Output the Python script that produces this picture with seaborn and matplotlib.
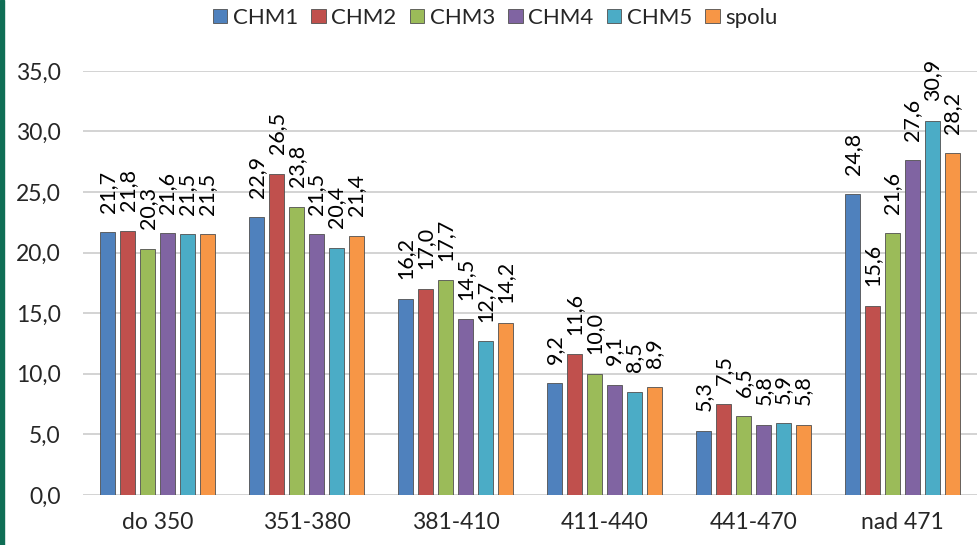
import pandas as pd
import seaborn as sns
import matplotlib.pyplot as plt
from matplotlib.patches import Rectangle

# Údaje z grafu
kategorie = ['do 350', '351-380', '381-410', '411-440', '441-470', 'nad 471']
serie = ['CHM1', 'CHM2', 'CHM3', 'CHM4', 'CHM5', 'spolu']
chm1 = [21.7, 22.9, 16.2, 9.2, 5.3, 24.8]
chm2 = [21.8, 26.5, 17.0, 11.6, 7.5, 15.6]
chm3 = [20.3, 23.8, 17.7, 10.0, 6.5, 21.6]
chm4 = [21.6, 21.5, 14.5, 9.1, 5.8, 27.6]
chm5 = [21.5, 20.4, 12.7, 8.5, 5.9, 30.9]
spolu = [21.5, 21.4, 14.2, 8.9, 5.8, 28.2]
farby = ['#4F81BD', '#C0504D', '#9BBB59', '#8064A2', '#4BACC6', '#F79646']

hodnoty = [chm1, chm2, chm3, chm4, chm5, spolu]
rows = []
for s, vals in zip(serie, hodnoty):
    for k, v in zip(kategorie, vals):
        rows.append({'kategoria': k, 'seria': s, 'hodnota': v})
df = pd.DataFrame(rows)

sns.set_theme(style="white")
plt.rcParams['font.family'] = ['Lato', 'DejaVu Sans']

fig = plt.figure(figsize=(9.77, 5.45), dpi=100)
ax = fig.add_axes([0.085, 0.092, 0.915, 0.778])

sns.barplot(data=df, x='kategoria', y='hodnota', hue='seria', palette=farby,
            saturation=1, width=0.8, gap=0.25, ax=ax,
            edgecolor='#505050', linewidth=0.6)

# hodnoty nad stĺpcami
for cont, vals in zip(ax.containers, hodnoty):
    ax.bar_label(cont, labels=[f'{v:.1f}'.replace('.', ',') for v in vals],
                 rotation=90, padding=14, fontsize=15.5, color='black',
                 annotation_clip=False)

ax.set_ylim(0, 35)
ax.set_yticks(range(0, 36, 5))
ax.set_yticklabels([f'{v},0' for v in range(0, 36, 5)], fontsize=16.5)
ax.tick_params(axis='x', labelsize=16.5, length=0, pad=12)
ax.tick_params(axis='y', length=0, pad=16)
ax.yaxis.grid(True, color='#d0d0d0', linewidth=1.3)
ax.set_axisbelow(True)
ax.set_xlabel('')
ax.set_ylabel('')
for sp in ax.spines.values():
    sp.set_visible(False)

ax.legend(loc='center', bbox_to_anchor=(0.461, 1.125), ncol=6, frameon=False,
          fontsize=16, handlelength=0.65, handleheight=0.65, handletextpad=0.25,
          columnspacing=0.6)

# zelený pruh vľavo
fig.patches.append(Rectangle((0, 0), 0.004, 1, transform=fig.transFigure,
                             color='#0f6e55', zorder=5))

fig.savefig('out.png', dpi=100)
